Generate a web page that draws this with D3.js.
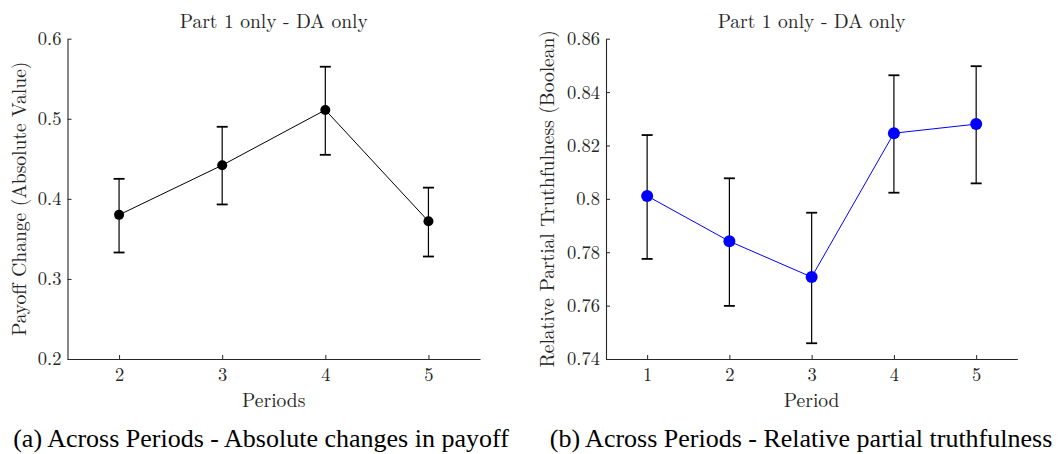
<!DOCTYPE html>
<html>
  <head>
    <meta charset="utf-8" />
    <title>Across Periods</title>
    <script src="https://d3js.org/d3.v7.min.js"></script>
    <style>
      body { margin: 0; background: white; }
      svg { display: block; }
    </style>
  </head>
  <body>
    <svg width="1060" height="454" id="chart"></svg>
    <script>
      // panel (a): payoff change by period
      const periodsA = [2, 3, 4, 5];
      const payoffMean = [0.380, 0.442, 0.511, 0.372];
      const payoffLow = [0.333, 0.393, 0.455, 0.328];
      const payoffHigh = [0.425, 0.490, 0.565, 0.414];
      const ticksA = [0.2, 0.3, 0.4, 0.5, 0.6];

      // panel (b): relative partial truthfulness by period
      const periodsB = [1, 2, 3, 4, 5];
      const truthMean = [0.8011, 0.7841, 0.7707, 0.8246, 0.8280];
      const truthLow = [0.7775, 0.7599, 0.7459, 0.8023, 0.8058];
      const truthHigh = [0.8239, 0.8077, 0.7948, 0.8463, 0.8497];
      const ticksB = [0.74, 0.76, 0.78, 0.8, 0.82, 0.84, 0.86];

      const LM = "'Latin Modern Roman'";
      const TIMES = "'Liberation Serif'";
      const ink = "#262626";

      const svg = d3.select("#chart");

      function setFont(sel, fam, size, fill) {
        sel.style("font-family", fam).style("font-size", size + "px").style("fill", fill);
      }

      function panel(opt) {
        const g = svg.append("g");
        const x = d3.scaleLinear().domain(opt.xDomain).range([opt.left, opt.right]);
        const y = d3.scaleLinear().domain(opt.yDomain).range([opt.bottom, opt.top]);

        g.append("g")
          .attr("transform", "translate(0," + opt.bottom + ")")
          .call(d3.axisBottom(x).tickValues(opt.xs).tickSizeInner(-4).tickSizeOuter(0).tickPadding(9).tickFormat(d3.format("d")));
        g.append("g")
          .attr("transform", "translate(" + opt.left + ",0)")
          .call(d3.axisLeft(y).tickValues(opt.yTicks).tickSizeInner(-4).tickSizeOuter(0).tickPadding(6).tickFormat(d => String(+d.toFixed(2))));
        g.selectAll(".domain").attr("stroke", ink).attr("stroke-width", 1.1);
        g.selectAll(".tick line").attr("stroke", ink);
        setFont(g.selectAll(".tick text"), LM, 18.5, ink);

        const pts = opt.xs.map((p, i) => ({ p: p, m: opt.mean[i], lo: opt.low[i], hi: opt.high[i] }));

        // error bars
        const eb = g.append("g").attr("stroke", "black").attr("stroke-width", 1.2);
        eb.selectAll("line.v").data(pts).enter().append("line")
          .attr("x1", d => x(d.p)).attr("x2", d => x(d.p))
          .attr("y1", d => y(d.lo)).attr("y2", d => y(d.hi));
        eb.selectAll("line.t").data(pts).enter().append("line")
          .attr("x1", d => x(d.p) - 5.5).attr("x2", d => x(d.p) + 5.5)
          .attr("y1", d => y(d.hi)).attr("y2", d => y(d.hi)).attr("stroke-width", 1.8);
        eb.selectAll("line.b").data(pts).enter().append("line")
          .attr("x1", d => x(d.p) - 5.5).attr("x2", d => x(d.p) + 5.5)
          .attr("y1", d => y(d.lo)).attr("y2", d => y(d.lo)).attr("stroke-width", 1.8);

        g.append("path").datum(pts)
          .attr("fill", "none").attr("stroke", opt.color).attr("stroke-width", 1)
          .attr("d", d3.line().x(d => x(d.p)).y(d => y(d.m)));

        g.selectAll("circle").data(pts).enter().append("circle")
          .attr("cx", d => x(d.p)).attr("cy", d => y(d.m))
          .attr("r", opt.r).attr("fill", opt.color);

        const cx = (opt.left + opt.right) / 2;
        setFont(g.append("text").attr("x", cx).attr("y", 28).attr("text-anchor", "middle")
          .text("Part 1 only - DA only"), LM, 19.5, ink);
        setFont(g.append("text").attr("x", cx).attr("y", 407).attr("text-anchor", "middle")
          .text(opt.xLabel), LM, 19.5, ink);
        setFont(g.append("text")
          .attr("transform", "translate(" + opt.yLabelX + "," + ((opt.top + opt.bottom) / 2) + ") rotate(-90)")
          .attr("text-anchor", "middle").text(opt.yLabel), LM, 19.5, ink);
        setFont(g.append("text").attr("x", opt.capX).attr("y", 447).attr("text-anchor", "middle")
          .text(opt.caption), TIMES, 26, "black");
      }

      panel({
        xs: periodsA, mean: payoffMean, low: payoffLow, high: payoffHigh,
        xDomain: [1.5, 5.5], yDomain: [0.2, 0.6], yTicks: ticksA,
        left: 67.5, right: 480, top: 38.7, bottom: 359,
        color: "black", r: 5,
        xLabel: "Periods", yLabel: "Payoff Change (Absolute Value)", yLabelX: 26,
        caption: "(a) Across Periods - Absolute changes in payoff", capX: 261
      });

      panel({
        xs: periodsB, mean: truthMean, low: truthLow, high: truthHigh,
        xDomain: [0.5, 5.5], yDomain: [0.74, 0.86], yTicks: ticksB,
        left: 606, right: 1017.3, top: 38.7, bottom: 359,
        color: "blue", r: 6,
        xLabel: "Period", yLabel: "Relative Partial Truthfulness (Boolean)", yLabelX: 554,
        caption: "(b) Across Periods - Relative partial truthfulness", capX: 801
      });
    </script>
  </body>
</html>
